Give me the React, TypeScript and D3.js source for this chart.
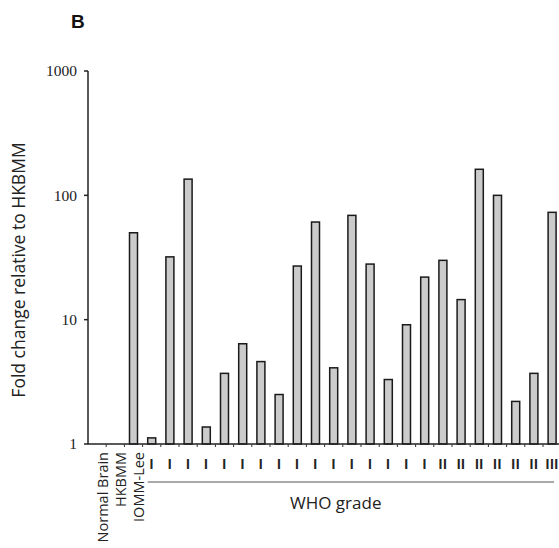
import React from "react";
import * as d3 from "d3";

const refCategories = ["Normal Brain", "HKBMM", "IOMM-Lee"];
const refValues = [1, 1, 50];
const gradeLabels = ["I","I","I","I","I","I","I","I","I","I","I","I","I","I","I","I","II","II","II","II","II","II","III"];
const sampleValues = [1.12, 32, 135, 1.37, 3.7, 6.4, 4.6, 2.5, 27, 61, 4.1, 69, 28, 3.3, 9.1, 22, 30, 14.5, 162, 100, 2.2, 3.7, 73];
const yTicks = [1, 10, 100, 1000];

const W = 559, H = 548;

export default function App() {
  const ids = [...refCategories, ...sampleValues.map((_, i) => "s" + i)];
  const values = [...refValues, ...sampleValues];
  const x0 = 88, step = 18.2;
  const pIn = 1 - 8 / step;
  const x = d3.scaleBand<string>().domain(ids).range([x0, x0 + step * ids.length]).paddingInner(pIn).paddingOuter(pIn / 2);
  const y = d3.scaleLog().domain([1, 1000]).range([444, 71]);
  const cx = (id: string) => (x(id) as number) + x.bandwidth() / 2;
  const sansFont = "'Open Sans', 'Noto Sans', sans-serif";
  const serifFont = "'Liberation Serif', serif";
  const firstSample = cx("s0"), lastSample = cx("s" + (sampleValues.length - 1));
  return (
    <svg width={W} height={H} style={{ position: "absolute", left: 0, top: 0, background: "#fff" }}>
      <text x={71} y={28} fontFamily="'Liberation Sans', Arial, sans-serif" fontWeight="bold" fontSize={19} fill="#111">B</text>
      <text transform={`translate(25,${270}) rotate(-90)`} textAnchor="middle" fontFamily={sansFont} fontSize={17.5} fill="#222">Fold change relative to HKBMM</text>
      {/* y axis */}
      <line x1={x0} x2={x0} y1={y(1000)} y2={y(1)} stroke="#222" strokeWidth={1.5} />
      {yTicks.map(t => (
        <g key={t}>
          <line x1={x0 - 4} x2={x0} y1={y(t)} y2={y(t)} stroke="#222" strokeWidth={1.5} />
          <text x={x0 - 11} y={y(t)} dy="0.35em" textAnchor="end" fontFamily={serifFont} fontSize={15.5} fill="#222">{t}</text>
        </g>
      ))}
      {/* bars */}
      {ids.map((id, i) => {
        const v = values[i];
        const h = y(1) - y(v);
        if (h < 0.5) return null;
        return <rect key={id} x={x(id)} y={y(v)} width={x.bandwidth()} height={h} fill="#cbcbcb" stroke="#1a1a1a" strokeWidth={1.5} />;
      })}
      {/* x axis */}
      <line x1={x0} x2={x0 + step * ids.length} y1={y(1)} y2={y(1)} stroke="#222" strokeWidth={1.5} />
      {ids.map((id, i) => (
        <line key={"t" + id} x1={x0 + step * (i + 1)} x2={x0 + step * (i + 1)} y1={y(1)} y2={y(1) + 3} stroke="#333" strokeWidth={1} />
      ))}
      {refCategories.map(c => (
        <text key={c} transform={`translate(${cx(c) + 5},${452}) rotate(-90)`} textAnchor="end" dominantBaseline="central" fontFamily={sansFont} fontSize={14.5} fill="#222">{c}</text>
      ))}
      {gradeLabels.map((g, i) => (
        <text key={"g" + i} x={cx("s" + i)} y={469} textAnchor="middle" fontFamily="'Liberation Sans', Arial, sans-serif" fontWeight="bold" fontSize={14} letterSpacing={0.5} fill="#222">{g}</text>
      ))}
      <line x1={firstSample - 4} x2={lastSample + 2} y1={482} y2={482} stroke="#555" strokeWidth={1} />
      <text x={290} y={509} fontFamily={sansFont} fontSize={17} fill="#222">WHO grade</text>
    </svg>
  );
}
